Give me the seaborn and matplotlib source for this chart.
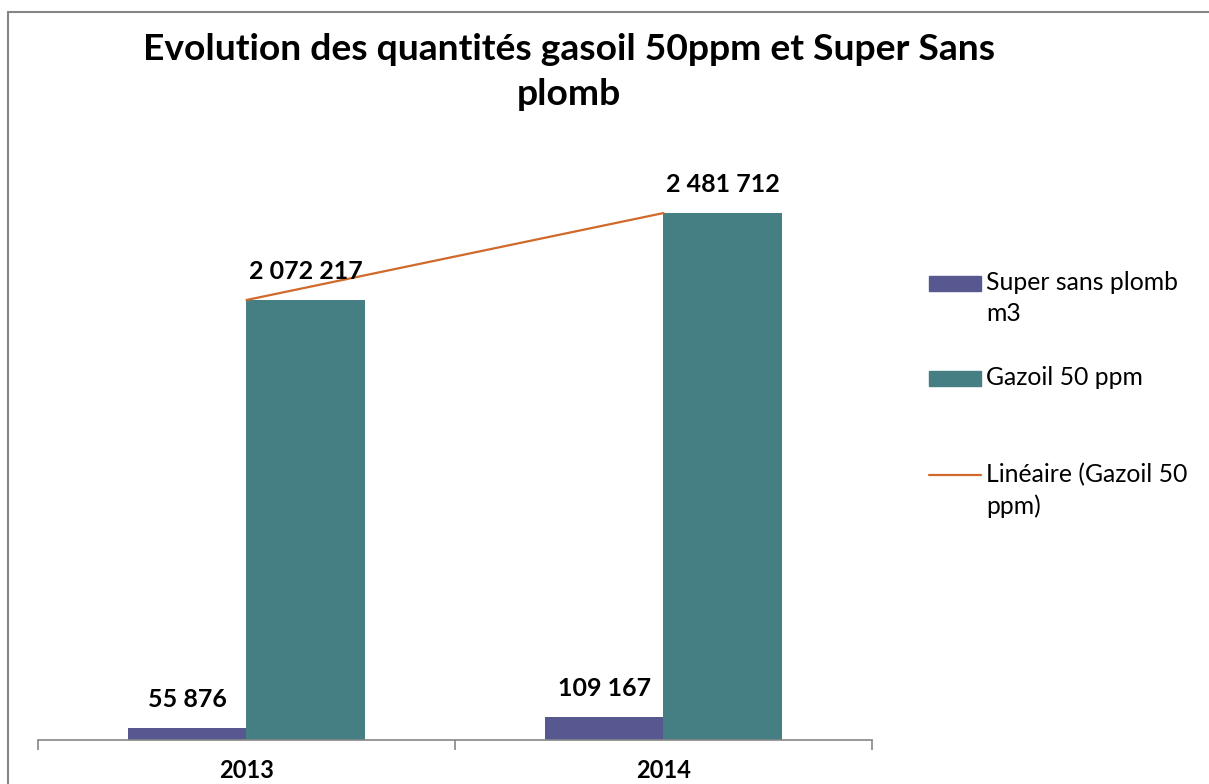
import matplotlib
matplotlib.use("Agg")
import matplotlib.pyplot as plt
from matplotlib.patches import Rectangle
from matplotlib.lines import Line2D
import seaborn as sns
import pandas as pd

years = ["2013", "2014"]
series_names = ["Super sans plomb m3", "Gazoil 50 ppm"]
super_sans_plomb = [55876, 109167]
gazoil_50ppm = [2072217, 2481712]
trend_label = "Linéaire (Gazoil 50 ppm)"
title = "Evolution des quantités gasoil 50ppm et Super Sans\nplomb"

purple = "#585891"
teal = "#457F84"
orange = "#D0692A"
gray = "#868686"

sns.set_theme(style="white")
plt.rcParams["font.family"] = ["Lato", "DejaVu Sans"]
plt.rcParams["text.color"] = "black"
plt.rcParams["xtick.color"] = "black"
plt.rcParams["xtick.labelcolor"] = "black"

df = pd.DataFrame({
    "year": years * 2,
    "series": [series_names[0]] * len(years) + [series_names[1]] * len(years),
    "value": super_sans_plomb + gazoil_50ppm,
})

fig = plt.figure(figsize=(12.09, 7.84), dpi=100)
ax = fig.add_axes([38 / 1209, 1 - 740 / 784, (872 - 38) / 1209, (740 - 150) / 784])

sns.barplot(data=df, x="year", y="value", hue="series", palette=[purple, teal],
            width=0.566, ax=ax, legend=False, edgecolor="none", saturation=1)

# linear trend of Gazoil
ax.plot(range(len(years)), gazoil_50ppm, color=orange, lw=1.6)

def fmt(v):
    return f"{v:,}".replace(",", " ")

for cont, vals in zip(ax.containers, [super_sans_plomb, gazoil_50ppm]):
    ax.bar_label(cont, labels=[fmt(v) for v in vals], padding=12,
                 fontsize=18, fontweight="bold", color="black")

ax.set_xlim(-0.5, len(years) - 0.5)
ax.set_ylim(0, 2072217 * 590 / 440)
ax.set_xlabel("")
ax.set_ylabel("")
ax.set_yticks([])
for s in ["left", "right", "top"]:
    ax.spines[s].set_visible(False)
ax.spines["bottom"].set_color(gray)
ax.spines["bottom"].set_linewidth(1.2)
ax.set_xticks(range(len(years)))
ax.set_xticklabels(years, fontsize=17, fontweight="bold", color="black")
ax.tick_params(axis="x", which="major", length=0, pad=14)
ax.set_xticks([i - 0.5 for i in range(len(years) + 1)], minor=True)
ax.tick_params(axis="x", which="minor", length=7, color=gray, width=1.2, direction="out")
ax.xaxis.set_tick_params(which="minor", bottom=True)

fig.text(569 / 1209, 1 - 33 / 784, title, ha="center", va="top", color="black",
         fontsize=26.8, fontweight="bold", linespacing=1.45)

# legend
W, H = 1209, 784
entries = [("patch", purple, "Super sans plomb\nm3", 283),
           ("patch", teal, "Gazoil 50 ppm", 378),
           ("line", orange, "Linéaire (Gazoil 50\nppm)", 475)]
for kind, col, lab, yc in entries:
    if kind == "patch":
        fig.add_artist(Rectangle((929 / W, 1 - (yc + 7.5) / H), 52 / W, 15 / H,
                                 transform=fig.transFigure, color=col))
    else:
        fig.add_artist(Line2D([929 / W, 981 / W], [1 - yc / H, 1 - yc / H],
                              transform=fig.transFigure, color=col, lw=1.6))
    fig.text(986 / W, 1 - (yc - 12) / H, lab, ha="left", va="top", fontsize=17.8,
             linespacing=1.42, color="black")

fig.add_artist(Rectangle((8 / W, -0.1), 1.2, 1.1 - 12 / H + 0.0, transform=fig.transFigure,
                         fill=False, edgecolor=gray, lw=1.5))

fig.savefig("out.png", dpi=100)
